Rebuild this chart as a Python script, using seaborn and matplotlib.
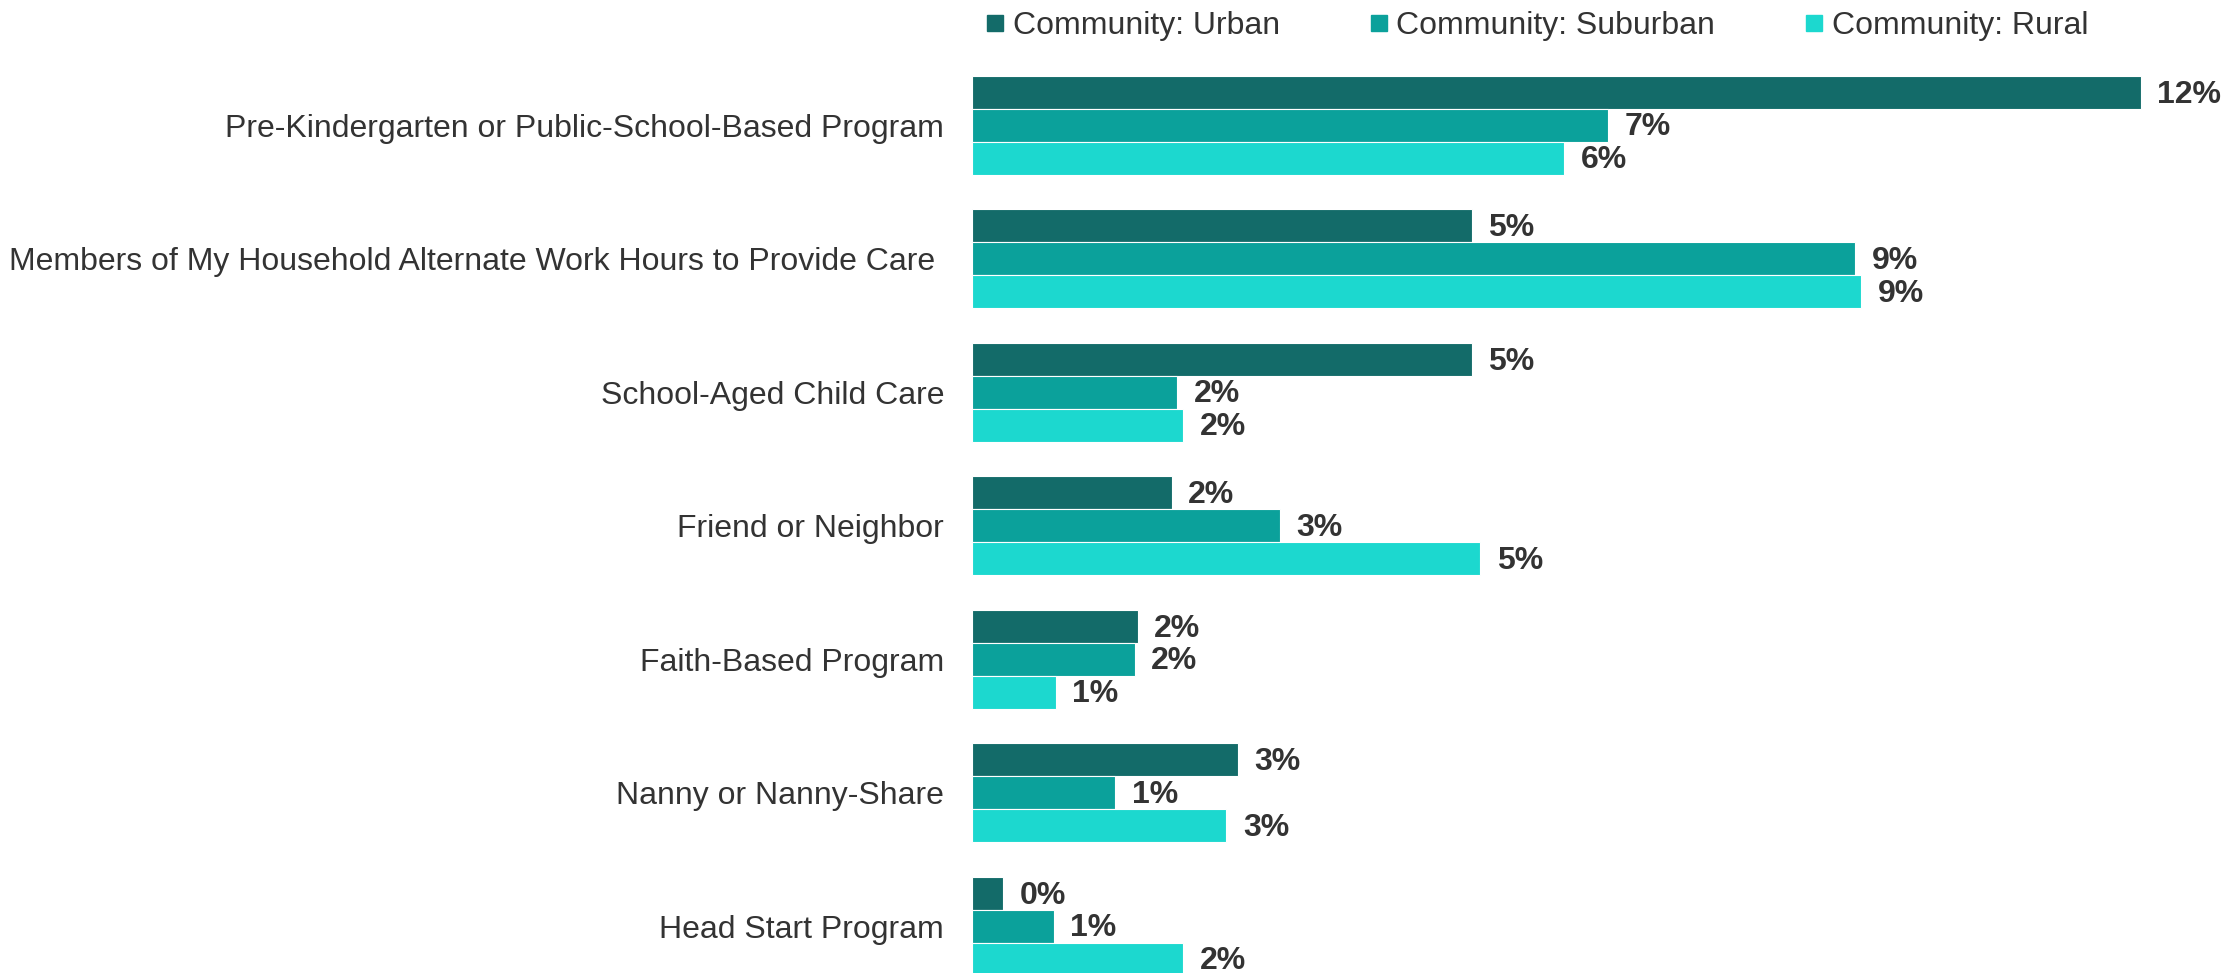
import seaborn as sns
import matplotlib.pyplot as plt
import pandas as pd

categories = [
    "Pre-Kindergarten or Public-School-Based Program",
    "Members of My Household Alternate Work Hours to Provide Care ",
    "School-Aged Child Care",
    "Friend or Neighbor",
    "Faith-Based Program",
    "Nanny or Nanny-Share",
    "Head Start Program",
]
series = ["Community: Urban", "Community: Suburban", "Community: Rural"]
urban = [12.0, 5.13, 5.13, 2.05, 1.70, 2.73, 0.32]
suburban = [6.53, 9.07, 2.11, 3.16, 1.67, 1.47, 0.84]
rural = [6.08, 9.13, 2.17, 5.22, 0.86, 2.61, 2.17]
colors = ["#136B69", "#0BA19B", "#1CD8CF"]

df = pd.DataFrame({
    "category": categories * 3,
    "community": [s for s in series for _ in categories],
    "value": urban + suburban + rural,
})

sns.set_style("white")
plt.rcParams["font.family"] = ["Liberation Sans", "DejaVu Sans"]

fig = plt.figure(figsize=(22.38, 9.77), dpi=100)
ax = fig.add_axes([0.4343, 0.004, 0.5657, 0.936])

sns.barplot(data=df, y="category", x="value", hue="community",
            palette=colors, saturation=1, width=0.74, orient="h", ax=ax,
            edgecolor="white", linewidth=0.8, legend=False)

for cont in ax.containers:
    labels = [f"{round(v.get_width())}%" for v in cont]
    texts = ax.bar_label(cont, labels=labels, padding=12, fontsize=23,
                         fontweight="bold", color="#333333")
    for t in texts:
        t.xyann = (12, -1.5)

ax.set_xlim(0, 13)
ax.set_ylim(6.35, -0.5)
ax.set_xlabel("")
ax.set_ylabel("")
ax.set_xticks([])
ax.tick_params(axis="y", length=0, labelsize=23, labelcolor="#333333", pad=20)
sns.despine(ax=ax, left=True, bottom=True, top=True, right=True)

handles = [plt.Line2D([], [], marker="s", color=c, linestyle="", markersize=11)
           for c in colors]
fig.legend(handles, series, loc="upper left", bbox_to_anchor=(0.4375, 0.995),
           ncol=3, frameon=False, fontsize=23, handlelength=0.6,
           handletextpad=0.25, columnspacing=2.8, borderpad=0.2,
           borderaxespad=0, labelcolor="#333333")

fig.savefig("out.png", dpi=100)
